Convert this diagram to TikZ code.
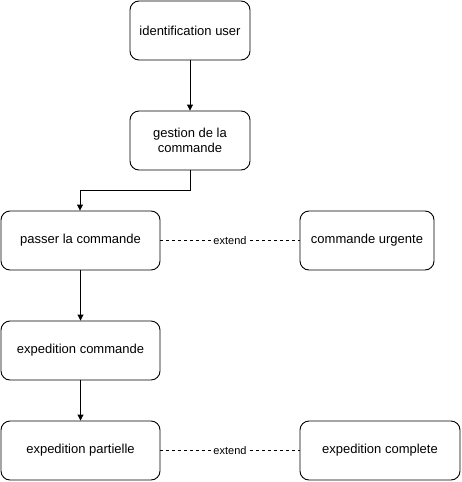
\documentclass[tikz,border=0pt]{standalone}
\usepackage{fontspec}
\setmainfont{Liberation Sans}
\usetikzlibrary{arrows.meta}
\begin{document}
\begin{tikzpicture}[x=1pt,y=-1pt,
  box/.style={draw,line width=0.9pt,rounded corners=9pt,minimum height=59pt,align=center,inner sep=0pt,font=\fontsize{13}{15.5}\selectfont},
  arr/.style={draw,line width=0.9pt,-{Triangle[length=6pt,width=6pt]}},
  ext/.style={draw,line width=0.7pt,dash pattern=on 3pt off 3pt},
  lbl/.style={fill=white,inner sep=1pt,font=\fontsize{11}{13}\selectfont},
  lbltext/.style={}]
\useasboundingbox (0,0) rectangle (462,482);
\node[box,minimum width=120pt] (id) at (190,30.5) {identification user};
\node[box,minimum width=120pt] (ges) at (190,140.5) {gestion de la\\commande};
\node[box,minimum width=159pt] (pas) at (80.5,240.5) {passer la commande};
\node[box,minimum width=134pt] (urg) at (367,240.5) {commande urgente};
\node[box,minimum width=159pt] (exc) at (80.5,350.5) {expedition commande};
\node[box,minimum width=159pt] (par) at (80.5,450.5) {expedition partielle};
\node[box,minimum width=160pt] (com) at (380,450.5) {expedition complete};
\coordinate (b1) at (190,190);
\coordinate (b2) at (80,190);
\draw[arr] (id) -- (ges);
\draw[arr] (ges.south) -- (b1) -- (b2) -- (b2 |- pas.north);
\draw[arr] (pas) -- (exc);
\draw[arr] (exc) -- (par);
\draw[ext] (pas) -- node[lbl] {extend} (urg);
\draw[ext] (par) -- node[lbl] {extend} (com);
\end{tikzpicture}
\end{document}
